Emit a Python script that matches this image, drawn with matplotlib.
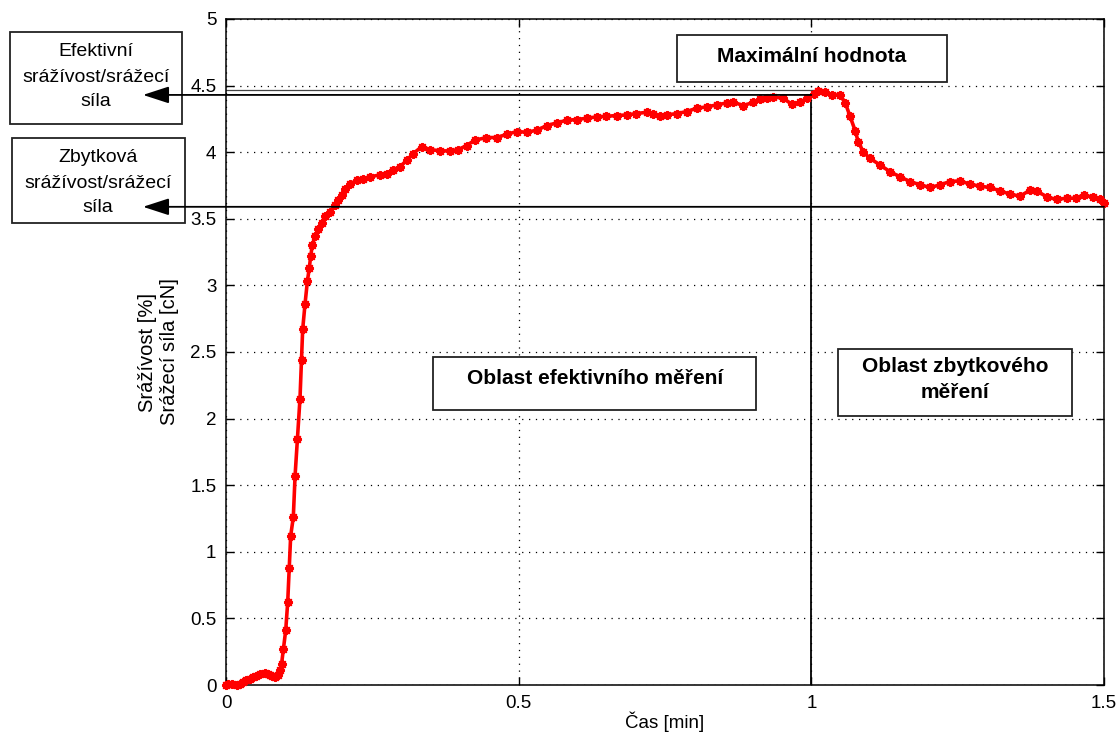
import matplotlib
matplotlib.use("Agg")
import matplotlib.pyplot as plt
from matplotlib.patches import Rectangle, FancyArrowPatch

plt.rcParams['font.family'] = ['Liberation Sans', 'DejaVu Sans']

# ---- data ----
time_min = [0.000, 0.004, 0.010, 0.018, 0.024, 0.029, 0.035, 0.041, 0.046, 0.052,
            0.058, 0.067, 0.071, 0.075, 0.079, 0.084, 0.089, 0.092, 0.095, 0.098,
            0.102, 0.1054, 0.108, 0.1105, 0.115, 0.118, 0.122, 0.1264, 0.129, 0.131,
            0.135, 0.139, 0.1423, 0.1447, 0.1474, 0.152, 0.158, 0.1635, 0.169, 0.178,
            0.186, 0.192, 0.198, 0.203, 0.212, 0.223, 0.234, 0.246, 0.263, 0.275,
            0.286, 0.297, 0.309, 0.320, 0.334, 0.349, 0.366, 0.383, 0.397, 0.411,
            0.425, 0.445, 0.4625, 0.480, 0.497, 0.514, 0.531, 0.548, 0.565, 0.582,
            0.599, 0.616, 0.633, 0.650, 0.6675, 0.6846, 0.701, 0.719, 0.730, 0.7415,
            0.753, 0.770, 0.787, 0.804, 0.821, 0.838, 0.8555, 0.867, 0.884, 0.901,
            0.912, 0.924, 0.935, 0.952, 0.9665, 0.981, 0.992, 1.004, 1.012, 1.0235,
            1.035, 1.049, 1.058, 1.066, 1.075, 1.080, 1.089, 1.100, 1.117, 1.134,
            1.1515, 1.1686, 1.186, 1.203, 1.220, 1.237, 1.254, 1.271, 1.288, 1.305,
            1.322, 1.3395, 1.3566, 1.3736, 1.385, 1.402, 1.419, 1.436, 1.453, 1.465,
            1.482, 1.493, 1.500]
shrink_force = [0.00, 0.01, 0.005, 0.00, 0.01, 0.025, 0.035, 0.045, 0.06, 0.065,
                0.08, 0.09, 0.08, 0.075, 0.065, 0.06, 0.075, 0.11, 0.16, 0.27,
                0.41, 0.62, 0.88, 1.12, 1.26, 1.57, 1.85, 2.15, 2.44, 2.67,
                2.86, 3.03, 3.13, 3.22, 3.30, 3.37, 3.42, 3.47, 3.52, 3.55,
                3.60, 3.64, 3.68, 3.72, 3.76, 3.79, 3.80, 3.815, 3.83, 3.84,
                3.87, 3.89, 3.94, 3.99, 4.04, 4.02, 4.01, 4.01, 4.02, 4.05,
                4.09, 4.11, 4.11, 4.135, 4.155, 4.15, 4.165, 4.20, 4.22, 4.24,
                4.245, 4.255, 4.265, 4.27, 4.275, 4.28, 4.29, 4.30, 4.29, 4.27,
                4.28, 4.29, 4.305, 4.33, 4.34, 4.355, 4.37, 4.375, 4.35, 4.375,
                4.40, 4.41, 4.415, 4.405, 4.36, 4.375, 4.405, 4.44, 4.46, 4.45,
                4.43, 4.43, 4.37, 4.27, 4.16, 4.08, 4.00, 3.955, 3.905, 3.855,
                3.815, 3.78, 3.755, 3.735, 3.755, 3.78, 3.785, 3.76, 3.745, 3.735,
                3.71, 3.685, 3.67, 3.715, 3.71, 3.665, 3.645, 3.655, 3.655, 3.68,
                3.66, 3.645, 3.62]

x_ticks = [0, 0.5, 1, 1.5]
x_tick_labels = ['0', '0.5', '1', '1.5']
y_ticks = [0, 0.5, 1, 1.5, 2, 2.5, 3, 3.5, 4, 4.5, 5]
y_tick_labels = ['0', '0.5', '1', '1.5', '2', '2.5', '3', '3.5', '4', '4.5', '5']

effective_level = 4.43
residual_level = 3.59
split_time = 1.0
peak_time = 1.02
peak_level = 4.47

W, H = 1120, 738
fig = plt.figure(figsize=(W / 100, H / 100), dpi=100)
ax = fig.add_axes([226 / W, 53 / H, 878 / W, 666 / H])

ax.plot(time_min, shrink_force, color='red', lw=2.6, marker=(8, 2, 0),
        ms=6.5, mew=1.4, mec='red', zorder=3, clip_on=False)

ax.set_xlim(0, 1.5)
ax.set_ylim(0, 5)
ax.set_xticks(x_ticks)
ax.set_xticklabels(x_tick_labels)
ax.set_yticks(y_ticks)
ax.set_yticklabels(y_tick_labels)
ax.tick_params(direction='in', length=6, width=1, top=True, right=True,
               labelsize=13.5, colors='black', pad=7)
ax.grid(True, color='black', linestyle=(0, (1, 4.5)), lw=0.9)
for s in ax.spines.values():
    s.set_linewidth(1.1)

ax.set_xlabel('Čas [min]', fontsize=13.5, labelpad=0)
ax.set_ylabel('Srážívost [%]\nSrážecí síla [cN]', fontsize=14.5, labelpad=8,
              linespacing=1.2)

# reference lines
ax.plot([0, peak_time], [peak_level, peak_level], color='#444444', lw=0.9, zorder=2)
ax.plot([split_time, split_time], [0, effective_level], color='black', lw=1.3, zorder=2)

arrow_x = (143 - 226) / 585.33
for lvl, x_end in [(effective_level, split_time), (residual_level, 1.5)]:
    arr = FancyArrowPatch(posA=(x_end, lvl), posB=(arrow_x, lvl),
                          transform=ax.transData,
                          arrowstyle='-|>,head_length=0.8,head_width=0.26',
                          mutation_scale=20, color='black', lw=1.3,
                          shrinkA=0, shrinkB=0, zorder=8)
    fig.add_artist(arr)


def box(x0, y0, x1, y1):
    fig.add_artist(Rectangle((x0 / W, 1 - y1 / H), (x1 - x0) / W, (y1 - y0) / H,
                             transform=fig.transFigure, facecolor='white',
                             edgecolor='#222222', lw=1.3, zorder=5))


def txt(x, y, s, **kw):
    fig.text(x / W, 1 - y / H, s, ha='center', va='center', zorder=6, **kw)


box(10, 32, 182, 124)
txt(96, 52, 'Efektivní', fontsize=14)
txt(96, 77, 'srážívost/srážecí', fontsize=14)
txt(96, 101, 'síla', fontsize=14)

box(12, 138, 185, 223)
txt(98, 158, 'Zbytková', fontsize=14)
txt(98, 183, 'srážívost/srážecí', fontsize=14)
txt(98, 207, 'síla', fontsize=14)

box(677, 35, 947, 82)
txt(812, 56, 'Maximální hodnota', fontsize=15, fontweight='bold')

box(433, 357, 756, 410)
txt(595, 378, 'Oblast efektivního měření', fontsize=15, fontweight='bold')

box(838, 349, 1072, 416)
txt(955, 367, 'Oblast zbytkového', fontsize=15, fontweight='bold')
txt(955, 393, 'měření', fontsize=15, fontweight='bold')

fig.savefig('out.png', dpi=100)
